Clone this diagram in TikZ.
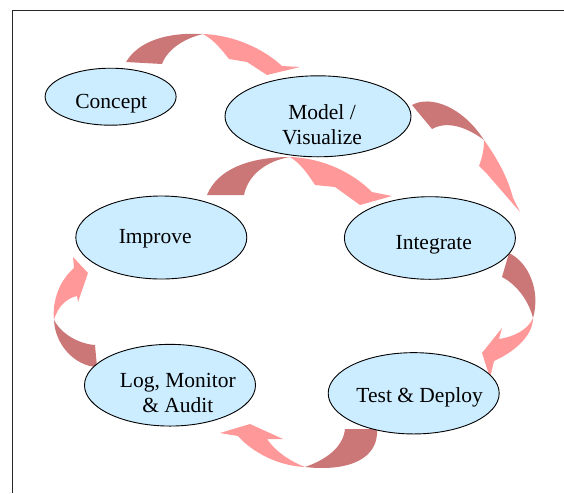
\documentclass[tikz,border=0pt]{standalone}
\usepackage{fontspec}
\setmainfont{Liberation Serif}
\newfontfamily\diagfont{Liberation Serif}
\usetikzlibrary{shapes.geometric,calc}
\definecolor{bubfill}{RGB}{204,236,255}
\definecolor{arrdark}{RGB}{204,119,119}
\definecolor{arrlight}{RGB}{255,153,153}
\begin{document}
\begin{tikzpicture}[x=1pt,y=-1pt,
  bub/.style={ellipse, draw=black, line width=0.9pt, fill=bubfill, inner sep=0pt},
  txt/.style={anchor=base, inner sep=0pt, font=\diagfont\fontsize{21.5}{25}\selectfont},
  frameline/.style={line width=1.4pt, black!85},
  backside/.style={fill=arrdark},
  frontside/.style={fill=arrlight}]
\useasboundingbox (0,0) rectangle (564,493);
\draw[frameline] (12.5,493) -- (12.5,10.5) -- (564,10.5);

% block arrows: dark (back) part and light (front) part with head
% Concept -> Model
\fill[backside] (126,62) .. controls (138,42) and (165,32) .. (203,34)
  .. controls (186,38) and (168,48) .. (162,64) -- cycle;
\fill[frontside] (203,34) .. controls (235,35) and (265,50) .. (282,66)
  -- (300,67) -- (267,75) -- (247,62) -- (229,59)
  .. controls (222,50) and (214,40) .. (203,34) -- cycle;
% Model -> Integrate
\fill[backside] (412,105) .. controls (430,95) and (462,106) .. (484,140)
  .. controls (468,128) and (448,120) .. (432,129) -- cycle;
\fill[frontside] (484,140) .. controls (497,158) and (508,178) .. (513,198)
  -- (520,212) -- (488,175) -- (479,166)
  .. controls (482,158) and (484,150) .. (484,140) -- cycle;
% Integrate -> Test & Deploy
\fill[backside] (509,253) .. controls (528,262) and (541,290) .. (533,318)
  .. controls (528,298) and (514,283) .. (502,277) -- cycle;
\fill[frontside] (533,318) .. controls (533,337) and (512,353) .. (494,361)
  -- (490,378) -- (482,353) -- (502,328) -- (499,339)
  .. controls (513,337) and (528,330) .. (533,318) -- cycle;
% Test & Deploy -> Log
\fill[backside] (377,429) .. controls (379,458) and (350,472) .. (305,467)
  .. controls (325,460) and (343,448) .. (345,429) -- cycle;
\fill[frontside] (305,467) .. controls (278,466) and (252,452) .. (238,436)
  -- (220,433) -- (250,424) -- (283,439) -- (267,439)
  .. controls (276,452) and (290,461) .. (305,467) -- cycle;
% Log -> Improve
\fill[backside] (97,367) .. controls (75,366) and (55,345) .. (54,320)
  .. controls (62,335) and (80,344) .. (95,345) -- cycle;
\fill[frontside] (54,320) .. controls (52,300) and (60,280) .. (74,268)
  -- (73,257) -- (88,273) -- (78,302) -- (77,296)
  .. controls (68,298) and (58,305) .. (54,320) -- cycle;
% Improve -> Integrate
\fill[backside] (207,195) .. controls (217,170) and (248,157) .. (290,157)
  .. controls (266,161) and (248,175) .. (244,195) -- cycle;
\fill[frontside] (290,157) .. controls (322,158) and (352,172) .. (372,192)
  -- (392,196) -- (360,205) -- (335,187) -- (315,185)
  .. controls (308,174) and (300,163) .. (290,157) -- cycle;

% ellipses
\node[bub, minimum width=131pt, minimum height=57pt] (concept) at (110.6,96.7) {};
\node[bub, minimum width=186pt, minimum height=81pt] (model) at (318,116.3) {};
\node[bub, minimum width=171pt, minimum height=83pt] (improve) at (161.3,237.5) {};
\node[bub, minimum width=171pt, minimum height=82.6pt] (integrate) at (429.9,238) {};
\node[bub, minimum width=171pt, minimum height=81.7pt] (logmon) at (170,385.2) {};
\node[bub, minimum width=171pt, minimum height=81.3pt] (test) at (413.7,393.3) {};

% texts
\node[txt] (concept-t) at (111.2,108.3) {Concept};
\node[txt] (model-t1) at (322,119.3) {Model /};
\node[txt] (model-t2) at (322,144.3) {Visualize};
\node[txt] (improve-t) at (155.2,243.3) {Improve};
\node[txt] (integrate-t) at (433.8,249.3) {Integrate};
\node[txt] (logmon-t1) at (177.8,387.3) {Log, Monitor};
\node[txt] (logmon-t2) at (177.8,412.7) {\& Audit};
\node[txt] (test-t) at (419.6,402) {Test \& Deploy};
\end{tikzpicture}
\end{document}
